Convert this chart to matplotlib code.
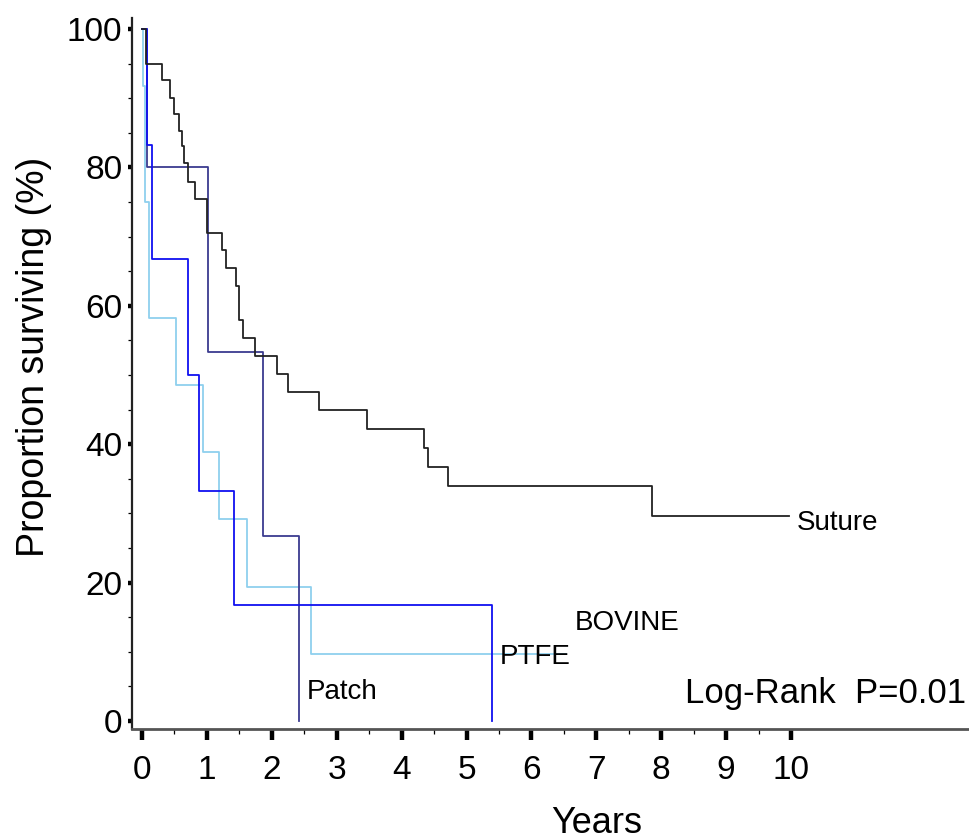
import matplotlib
matplotlib.use("Agg")
import matplotlib.pyplot as plt
from matplotlib.ticker import FixedLocator

plt.rcParams['font.family'] = ['Liberation Sans', 'DejaVu Sans']

# Kaplan-Meier step data (years, % surviving)
suture_t = [0, 0.06, 0.31, 0.43, 0.49, 0.57, 0.62, 0.65, 0.71, 0.81, 1.00, 1.23, 1.29, 1.45,
            1.50, 1.55, 1.74, 2.08, 2.25, 2.72, 3.47, 4.34, 4.40, 4.71, 7.86, 9.97]
suture_s = [100, 95.0, 92.6, 90.1, 87.7, 85.3, 83.1, 80.6, 77.9, 75.4, 70.5, 68.0, 65.4, 62.9,
            57.9, 55.4, 52.8, 50.1, 47.5, 44.9, 42.2, 39.4, 36.7, 33.9, 29.6, 29.6]

patch_t = [0, 0.07, 1.01, 1.86, 2.42]
patch_s = [100, 80.0, 53.3, 26.7, 0]

bovine_t = [0, 0.08, 0.15, 0.71, 0.88, 1.42, 5.39]
bovine_s = [100, 83.3, 66.7, 50.0, 33.3, 16.7, 0]

ptfe_t = [0, 0.01, 0.05, 0.11, 0.52, 0.94, 1.19, 1.62, 2.60, 6.54]
ptfe_s = [100, 91.7, 75.0, 58.3, 48.6, 38.9, 29.2, 19.4, 9.7, 9.7]

x_ticks = list(range(0, 11))
y_ticks = [0, 20, 40, 60, 80, 100]

W, H = 970, 840
fig = plt.figure(figsize=(W / 100, H / 100), dpi=100)

px_per_year = 64.9
x0_px = 142
xmin = -(x0_px - 132) / px_per_year
xmax = 13.5
ax_left = 132 / W
ax_width = (xmax - xmin) * px_per_year / W
ax_bottom = (H - 729) / H
ax_height = (729 - 18) / H
ax = fig.add_axes([ax_left, ax_bottom, ax_width, ax_height])
ax.set_xlim(xmin, xmax)
ax.set_ylim(-1.16, 101.6)

lw = 1.3
ax.step(ptfe_t, ptfe_s, where='post', color='#8fd0ee', lw=lw, zorder=2)
ax.step(patch_t, patch_s, where='post', color='#3c3c90', lw=lw, zorder=3)
ax.step(bovine_t, bovine_s, where='post', color='#1010f0', lw=lw, zorder=4)
ax.step(suture_t, suture_s, where='post', color='#222222', lw=lw, zorder=5)

for side in ['top', 'right']:
    ax.spines[side].set_visible(False)
ax.spines['left'].set_color('#222222')
ax.spines['left'].set_linewidth(1.6)
ax.spines['bottom'].set_color('#555555')
ax.spines['bottom'].set_linewidth(2.0)

ax.xaxis.set_major_locator(FixedLocator(x_ticks))
ax.xaxis.set_minor_locator(FixedLocator([x + 0.5 for x in x_ticks[:-1]]))
ax.yaxis.set_major_locator(FixedLocator(y_ticks))
ax.yaxis.set_minor_locator(FixedLocator([v for v in range(5, 100, 5) if v % 20]))
ax.set_xticklabels([str(v) for v in x_ticks])
ax.set_yticklabels([str(v) for v in y_ticks])

ax.tick_params(axis='x', which='major', direction='out', length=8, width=3.2,
               color='black', labelsize=24, pad=11)
ax.tick_params(axis='x', which='minor', direction='out', length=3.5, width=0.9, color='black')
ax.tick_params(axis='y', which='major', direction='out', length=3, width=3.2,
               color='black', labelsize=24, pad=4)
ax.tick_params(axis='y', which='minor', direction='out', length=3, width=0.9, color='black')

ax.text(10.09, 28.6, 'Suture', fontsize=20, va='center', ha='left')
ax.text(6.67, 14.2, 'BOVINE', fontsize=20, va='center', ha='left')
ax.text(5.52, 9.2, 'PTFE', fontsize=20, va='center', ha='left')
ax.text(2.54, 4.2, 'Patch', fontsize=20, va='center', ha='left')
ax.text(8.36, 3.9, 'Log-Rank  P=0.01', fontsize=25, va='center', ha='left')

fig.text(597 / W, (H - 833) / H, 'Years', fontsize=26, ha='center', va='baseline')
fig.text(34 / W, (H - 357) / H, 'Proportion surviving (%)', fontsize=27, rotation=90,
         ha='center', va='center')

fig.savefig('out.png', dpi=100)
